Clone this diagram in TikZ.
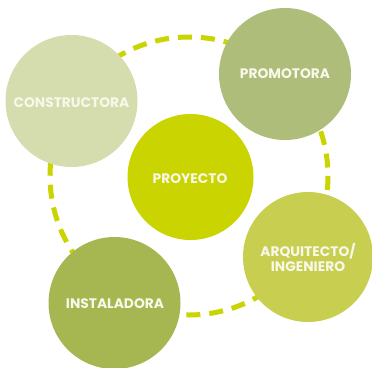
\documentclass[tikz,border=0pt]{standalone}
\usepackage{fontspec}
\setmainfont{Poppins}[UprightFont=* Bold]
\definecolor{cConst}{HTML}{D5DCAE}
\definecolor{cProm}{HTML}{AEBD7A}
\definecolor{cProy}{HTML}{C9D400}
\definecolor{cArq}{HTML}{C8CF50}
\definecolor{cInst}{HTML}{A6B752}
\definecolor{cDash}{HTML}{C9D400}
\definecolor{cText}{HTML}{F8F8EA}
\begin{document}
\begin{tikzpicture}[x=1pt,y=-1pt,
  bubble/.style={circle,inner sep=0pt,text=cText,font=\fontsize{13.8}{15}\selectfont,align=center},
  ring/.style={draw=cDash,line width=5pt,dash pattern=on 14pt off 9pt}]
\useasboundingbox (0,0) rectangle (372,367);
\coordinate (ringc) at (189,176);
\draw[ring] (ringc) circle[radius=139];
\fill[cConst] (71.5,101) circle[radius=66];
\node[bubble] (constructora) at (71.5,103) {CONSTRUCTORA};
\fill[cProm] (285,74) circle[radius=66];
\node[bubble] (promotora) at (285,74) {PROMOTORA};
\fill[cProy] (190.5,177) circle[radius=63];
\node[bubble] (proyecto) at (190,179) {PROYECTO};
\fill[cArq] (308,257) circle[radius=65];
\node[bubble] (arq) at (308,257.5) {ARQUITECTO/\\INGENIERO};
\fill[cInst] (114.5,303) circle[radius=66];
\node[bubble] (inst) at (115,304) {INSTALADORA};
\end{tikzpicture}
\end{document}
